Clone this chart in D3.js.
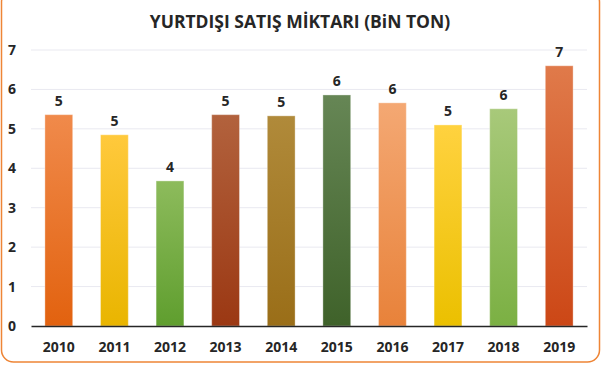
<!DOCTYPE html>
<html lang="tr">
<head>
  <meta charset="UTF-8">
  <title>Yurtdışı Satış Miktarı</title>
  <script src="https://d3js.org/d3.v7.min.js"></script>
  <style>
    body { margin: 0; background: #fff; }
    text { font-family: "Open Sans", "DejaVu Sans", sans-serif; font-weight: bold; fill: #262626; }
    .grid line { stroke: #e9e9f0; stroke-width: 1; }
  </style>
</head>
<body>
  <div id="chart"></div>
  <script>
    // Chart data
    const years = ["2010", "2011", "2012", "2013", "2014", "2015", "2016", "2017", "2018", "2019"];
    const values = [5.36, 4.85, 3.68, 5.36, 5.33, 5.86, 5.66, 5.1, 5.51, 6.6];
    const topColors = ["#f08a4b", "#ffc93c", "#8dbb5c", "#b2623d", "#b08a3a", "#668655", "#f4a873", "#ffd23f", "#a8c97a", "#e07a4a"];
    const bottomColors = ["#e2620f", "#e9b500", "#5f9e2e", "#9b3813", "#9a6e18", "#3f622a", "#e8823a", "#ebc000", "#7bb043", "#cc4716"];
    const yTicks = [0, 1, 2, 3, 4, 5, 6, 7];
    const title = "YURTDIŞI SATIŞ MİKTARI (BiN TON)";

    const W = 602, H = 366;
    const margin = { top: 50, right: 15, bottom: 40, left: 31 };

    const svg = d3.select("#chart").append("svg")
      .attr("width", W)
      .attr("height", H);

    // gradients for the bars
    const defs = svg.append("defs");
    years.forEach((y, i) => {
      const g = defs.append("linearGradient")
        .attr("id", "grad" + i)
        .attr("x1", 0).attr("y1", 0).attr("x2", 0).attr("y2", 1);
      g.append("stop").attr("offset", "0%").attr("stop-color", topColors[i]);
      g.append("stop").attr("offset", "100%").attr("stop-color", bottomColors[i]);
    });

    // outer rounded frame
    svg.append("rect")
      .attr("x", 1.5).attr("y", -10)
      .attr("width", W - 4).attr("height", H - 4 + 10)
      .attr("rx", 12)
      .attr("fill", "none")
      .attr("stroke", "#ee8536")
      .attr("stroke-width", 1.5);

    svg.append("text")
      .attr("x", 300)
      .attr("y", 28)
      .attr("text-anchor", "middle")
      .style("font-size", "17.5px")
      .text(title);

    const x = d3.scaleBand()
      .domain(years)
      .range([margin.left, W - margin.right])
      .paddingInner(0.5)
      .paddingOuter(0.25);

    const y = d3.scaleLinear()
      .domain([0, 7])
      .range([H - margin.bottom, margin.top]);

    // gridlines
    svg.append("g")
      .attr("class", "grid")
      .selectAll("line")
      .data(yTicks.filter(d => d > 0))
      .join("line")
      .attr("x1", margin.left)
      .attr("x2", W - margin.right)
      .attr("y1", d => y(d))
      .attr("y2", d => y(d));

    // y axis labels
    const yAxis = svg.append("g")
      .attr("transform", `translate(${margin.left},0)`)
      .call(d3.axisLeft(y).tickValues(yTicks).tickFormat(d3.format("d")).tickSize(0).tickPadding(15));
    yAxis.select(".domain").remove();
    yAxis.selectAll("text").style("font-size", "14px").attr("fill", "#262626");

    // bars
    svg.selectAll(".bar")
      .data(values)
      .join("rect")
      .attr("class", "bar")
      .attr("x", (d, i) => x(years[i]))
      .attr("y", d => y(d))
      .attr("width", x.bandwidth())
      .attr("height", d => y(0) - y(d))
      .attr("fill", (d, i) => `url(#grad${i})`)
      .attr("stroke", "rgba(255,255,255,0.35)")
      .attr("stroke-width", 1);

    // value labels
    svg.selectAll(".val")
      .data(values)
      .join("text")
      .attr("class", "val")
      .attr("x", (d, i) => x(years[i]) + x.bandwidth() / 2)
      .attr("y", d => y(d) - 9)
      .attr("text-anchor", "middle")
      .style("font-size", "14px")
      .text(d => Math.round(d));

    // x axis
    const xAxis = svg.append("g")
      .attr("transform", `translate(0,${y(0)})`)
      .call(d3.axisBottom(x).tickSize(0).tickPadding(16));
    xAxis.select(".domain")
      .attr("stroke", "#262626")
      .attr("stroke-width", 1.5);
    xAxis.selectAll("text").style("font-size", "14px").attr("fill", "#262626");
  </script>
</body>
</html>
